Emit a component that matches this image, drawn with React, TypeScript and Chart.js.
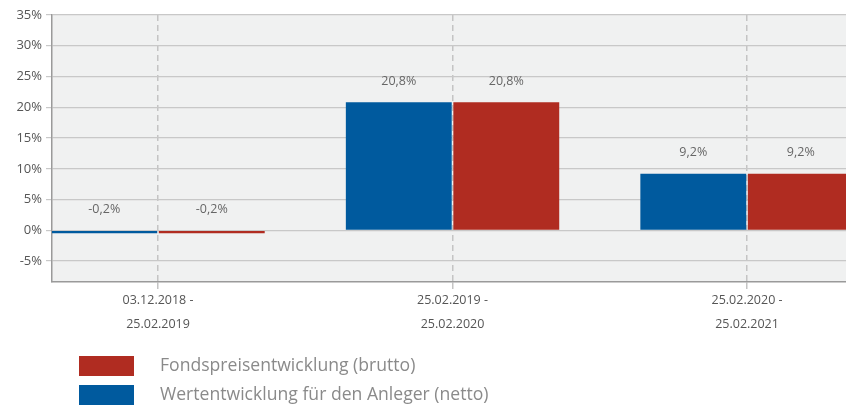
import React, { useEffect, useRef } from "react";
import { Chart, registerables } from "chart.js";

Chart.register(...registerables);

const periodLabels: string[][] = [
  ["03.12.2018 -", "25.02.2019"],
  ["25.02.2019 -", "25.02.2020"],
  ["25.02.2020 -", "25.02.2021"],
];
const nettoValues = [-0.2, 20.8, 9.2];
const bruttoValues = [-0.2, 20.8, 9.2];
const nettoLabel = "Wertentwicklung für den Anleger (netto)";
const bruttoLabel = "Fondspreisentwicklung (brutto)";
const yTicks = [-5, 0, 5, 10, 15, 20, 25, 30, 35];

const BLUE = "#005a9e";
const RED = "#b02c21";
const FONT = "'Open Sans', 'Noto Sans', sans-serif";

const fmt = (v: number) => v.toFixed(1).replace(".", ",") + "%";

const bgPlugin = {
  id: "bg",
  beforeDraw(chart: any) {
    const { ctx, chartArea: a } = chart;
    ctx.save();
    ctx.fillStyle = "#f0f1f1";
    ctx.fillRect(a.left, a.top, a.right - a.left, a.bottom - a.top);
    ctx.restore();
  },
};

const labelPlugin = {
  id: "vlabels",
  afterDatasetsDraw(chart: any) {
    const { ctx } = chart;
    ctx.save();
    ctx.font = `12.5px ${FONT}`;
    ctx.fillStyle = "#666";
    ctx.textAlign = "center";
    ctx.textBaseline = "middle";
    chart.data.datasets.forEach((ds: any, di: number) => {
      const meta = chart.getDatasetMeta(di);
      meta.data.forEach((el: any, i: number) => {
        const top = Math.min(el.y, el.base);
        ctx.fillText(fmt(ds.data[i].y), el.x, top - 21);
      });
    });
    ctx.restore();
  },
};

const legendPlugin = {
  id: "customLegend",
  afterDraw(chart: any) {
    const { ctx } = chart;
    const items = [...chart.data.datasets].reverse();
    ctx.save();
    ctx.font = `17.6px ${FONT}`;
    ctx.textBaseline = "middle";
    ctx.textAlign = "left";
    items.forEach((ds: any, i: number) => {
      const y = 356 + i * 29;
      ctx.fillStyle = ds.backgroundColor;
      ctx.fillRect(79, y, 55, 20);
      ctx.fillStyle = "#8a8a8a";
      ctx.fillText(ds.label, 160, y + 10);
    });
    ctx.restore();
  },
};

export default function App() {
  const ref = useRef<HTMLCanvasElement>(null);
  useEffect(() => {
    document.body.style.margin = "0";
    const chart = new Chart(ref.current!, {
      type: "bar",
      data: {
        datasets: [
          {
            label: nettoLabel,
            data: nettoValues.map((v, i) => ({ x: i, y: v })),
            backgroundColor: BLUE,
            minBarLength: 3,
          },
          {
            label: bruttoLabel,
            data: bruttoValues.map((v, i) => ({ x: i, y: v })),
            backgroundColor: RED,
            minBarLength: 3,
          },
        ],
      },
      options: {
        animation: false,
        responsive: false,
        maintainAspectRatio: false,
        categoryPercentage: 0.73,
        barPercentage: 0.985,
        layout: { padding: { top: 15, right: 0, left: 0, bottom: 0 } },
        plugins: {
          legend: { display: false },
          tooltip: { enabled: false },
        },
        scales: {
          x: {
            type: "linear",
            offset: false,
            min: -0.36,
            max: 2.336,
            afterBuildTicks: (scale: any) => {
              scale.ticks = periodLabels.map((_, i) => ({ value: i }));
            },
            afterFit: (scale: any) => {
              scale.height = 123;
            },
            ticks: {
              autoSkip: false,
              maxRotation: 0,
              padding: -1,
              color: "#555",
              font: { family: FONT, size: 12.5, lineHeight: 1.95 },
              callback: (v: any) => periodLabels[Math.round(Number(v))] ?? "",
            },
            grid: {
              offset: false,
              color: "#c4c4c4",
              tickLength: 7,
              lineWidth: 1.5,
            },
            border: { color: "#9a9a9a", width: 1.5, dash: [6, 4] },
          },
          y: {
            min: -8.4,
            max: 35,
            afterBuildTicks: (scale: any) => {
              scale.ticks = yTicks.map((v) => ({ value: v }));
            },
            afterFit: (scale: any) => {
              scale.width = 52;
            },
            ticks: {
              color: "#555",
              padding: 4,
              font: { family: FONT, size: 13 },
              callback: (v: any) => v + "%",
            },
            grid: { color: "#c8c8c8", tickLength: 6, lineWidth: 1.2 },
            border: { color: "#9a9a9a", width: 1.5 },
          },
        },
      } as any,
      plugins: [bgPlugin, labelPlugin, legendPlugin],
    });
    return () => chart.destroy();
  }, []);
  return (
    <div style={{ position: "absolute", left: 0, top: 0, width: 846, height: 405 }}>
      <canvas ref={ref} width={846} height={405} style={{ display: "block" }} />
    </div>
  );
}
